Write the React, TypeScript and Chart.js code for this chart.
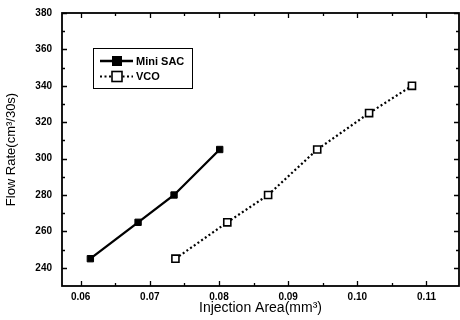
import React, { useEffect, useRef } from 'react';
import { Chart, registerables } from 'chart.js';

Chart.register(...registerables);

const miniSacX = [0.0614, 0.0683, 0.0735, 0.0801];
const miniSacY = [245, 265, 280, 305];
const vcoX = [0.0737, 0.0812, 0.0871, 0.0942, 0.1017, 0.1079];
const vcoY = [245, 265, 280, 305, 325, 340];
const xTicks = [0.06, 0.07, 0.08, 0.09, 0.1, 0.11];
const xMinorTicks = [0.065, 0.075, 0.085, 0.095, 0.105];
const yTicks = [240, 260, 280, 300, 320, 340, 360, 380];
const yMinorTicks = [250, 270, 290, 310, 330, 350, 370];
const xRange = [0.0573, 0.1147];
const yRange = [230, 380];
const seriesLabels = ['Mini SAC', 'VCO'];
const xTitle = 'Injection Area(mm³)';
const yTitle = 'Flow Rate(cm³/30s)';

const FONT = '"Liberation Sans", Arial, sans-serif';

const frameTicksPlugin = {
  id: 'frameTicks',
  beforeDatasetsDraw(chart: any) {
    const { ctx, chartArea, scales } = chart;
    const { left, right, top, bottom } = chartArea;
    const x = scales.x;
    const y = scales.y;
    ctx.save();
    ctx.strokeStyle = '#000';
    ctx.lineWidth = 1.8;
    ctx.strokeRect(left, top, right - left, bottom - top);
    ctx.beginPath();
    ctx.lineWidth = 1.3;
    const xt = (vals: number[], len: number) => {
      vals.forEach((v) => {
        const px = Math.round(x.getPixelForValue(v)) + 0.5;
        ctx.moveTo(px, bottom);
        ctx.lineTo(px, bottom - len);
        ctx.moveTo(px, top);
        ctx.lineTo(px, top + len);
      });
    };
    const yt = (vals: number[], len: number) => {
      vals.forEach((v) => {
        const py = Math.round(y.getPixelForValue(v)) + 0.5;
        ctx.moveTo(left, py);
        ctx.lineTo(left + len, py);
        ctx.moveTo(right, py);
        ctx.lineTo(right - len, py);
      });
    };
    xt(xTicks, 5);
    xt(xMinorTicks, 3);
    yt(yTicks, 5);
    yt(yMinorTicks, 3);
    ctx.stroke();
    ctx.restore();
  },
};

const legendBoxPlugin = {
  id: 'legendBox',
  afterDraw(chart: any) {
    const { ctx } = chart;
    const bx = 93, by = 48, bw = 99, bh = 40;
    ctx.save();
    ctx.fillStyle = '#fff';
    ctx.fillRect(bx, by, bw, bh);
    ctx.strokeStyle = '#000';
    ctx.lineWidth = 1;
    ctx.strokeRect(bx + 0.5, by + 0.5, bw, bh);
    chart.data.datasets.forEach((ds: any, i: number) => {
      const ry = 61 + i * 15.5;
      ctx.beginPath();
      ctx.setLineDash(ds.borderDash || []);
      ctx.lineWidth = ds.borderWidth;
      ctx.strokeStyle = ds.borderColor;
      ctx.moveTo(100, ry);
      ctx.lineTo(133, ry);
      ctx.stroke();
      ctx.setLineDash([]);
      const r = ds.pointRadius;
      ctx.fillStyle = ds.pointBackgroundColor;
      ctx.fillRect(117 - r, ry - r, 2 * r, 2 * r);
      ctx.lineWidth = ds.pointBorderWidth;
      ctx.strokeStyle = ds.pointBorderColor;
      ctx.strokeRect(117 - r, ry - r, 2 * r, 2 * r);
      ctx.fillStyle = '#000';
      ctx.font = `bold 11px ${FONT}`;
      ctx.textBaseline = 'middle';
      ctx.textAlign = 'left';
      ctx.fillText(ds.label, 136, ry + 0.5);
    });
    ctx.restore();
  },
};

export default function App() {
  const canvasRef = useRef<HTMLCanvasElement | null>(null);

  useEffect(() => {
    if (!canvasRef.current) return;
    const chart = new Chart(canvasRef.current, {
      type: 'scatter',
      data: {
        datasets: [
          {
            label: seriesLabels[0],
            data: miniSacX.map((v, i) => ({ x: v, y: miniSacY[i] })),
            showLine: true,
            borderColor: '#000',
            borderWidth: 2.3,
            pointStyle: 'rect',
            pointRadius: 4.5,
            pointBackgroundColor: '#000',
            pointBorderColor: '#000',
            pointBorderWidth: 1,
          } as any,
          {
            label: seriesLabels[1],
            data: vcoX.map((v, i) => ({ x: v, y: vcoY[i] })),
            showLine: true,
            borderColor: '#000',
            borderWidth: 2.2,
            borderDash: [2, 2.5],
            pointStyle: 'rect',
            pointRadius: 5,
            pointBackgroundColor: '#fff',
            pointBorderColor: '#000',
            pointBorderWidth: 1.6,
          } as any,
        ],
      },
      options: {
        animation: false,
        responsive: false,
        layout: { autoPadding: false, padding: { top: 13, right: 1, left: 0, bottom: 0 } },
        plugins: { legend: { display: false }, tooltip: { enabled: false } },
        scales: {
          x: {
            type: 'linear',
            min: xRange[0],
            max: xRange[1],
            grid: { display: false, drawTicks: false },
            border: { display: false },
            afterBuildTicks: (s: any) => {
              s.ticks = xTicks.map((v) => ({ value: v }));
            },
            afterFit: (s: any) => {
              s.height = 34;
              s.paddingLeft = 0;
              s.paddingRight = 0;
            },
            ticks: {
              color: '#000',
              font: { family: FONT, size: 10, weight: 'bold' },
              padding: 5,
              maxRotation: 0,
              autoSkip: false,
              callback: (v: any) => Number(v).toFixed(2),
            },
            title: {
              display: true,
              text: xTitle,
              color: '#000',
              font: { family: FONT, size: 14 },
              padding: { top: 0, bottom: 3 },
            },
          },
          y: {
            type: 'linear',
            min: yRange[0],
            max: yRange[1],
            grid: { display: false, drawTicks: false },
            border: { display: false },
            afterBuildTicks: (s: any) => {
              s.ticks = yTicks.map((v) => ({ value: v }));
            },
            afterFit: (s: any) => {
              s.width = 62;
              s.paddingTop = 0;
              s.paddingBottom = 0;
            },
            ticks: {
              color: '#000',
              font: { family: FONT, size: 10, weight: 'bold' },
              padding: 10,
              autoSkip: false,
              callback: (v: any) => String(v),
            },
            title: {
              display: true,
              text: yTitle,
              color: '#000',
              font: { family: FONT, size: 13 },
              padding: { top: 4, bottom: 0 },
            },
          },
        },
      },
      plugins: [frameTicksPlugin, legendBoxPlugin],
    });
    return () => chart.destroy();
  }, []);

  return (
    <div style={{ position: 'absolute', left: 0, top: 0, width: 460, height: 320, background: '#fff' }}>
      <canvas ref={canvasRef} width={460} height={320} style={{ display: 'block' }} />
    </div>
  );
}
